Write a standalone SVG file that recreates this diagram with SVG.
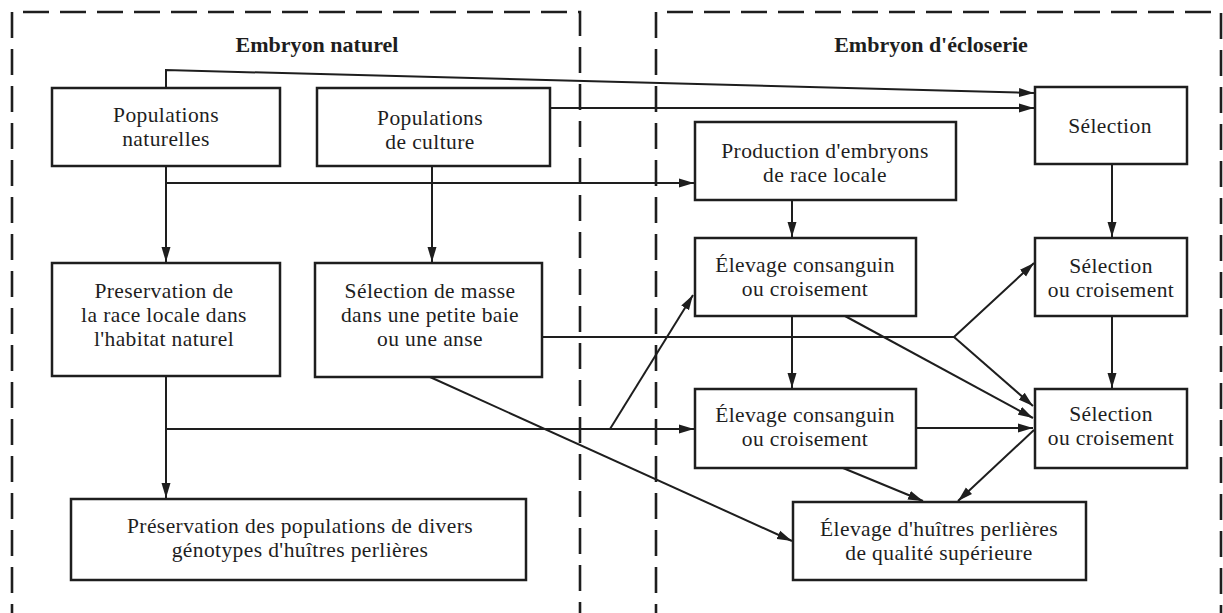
<svg xmlns="http://www.w3.org/2000/svg" width="1223" height="613" viewBox="0 0 1223 613">
<style>
.frame{fill:none;stroke:#1e1e1e;stroke-width:2.6;stroke-dasharray:26 11}
.box{fill:#fff;stroke:#1e1e1e;stroke-width:2.5}
.t{font-family:"Liberation Serif","Times New Roman",serif;font-size:21.5px;letter-spacing:0.4px;fill:#1e1e1e;text-anchor:middle}
.title{font-family:"Liberation Serif","Times New Roman",serif;font-size:22px;font-weight:bold;fill:#1e1e1e;text-anchor:middle}
.c{fill:none;stroke:#1e1e1e;stroke-width:2;marker-end:url(#ah)}
</style>
<defs>
<marker id="ah" markerUnits="userSpaceOnUse" markerWidth="16" markerHeight="10" refX="15" refY="5" orient="auto">
<path d="M0,0.5 L15,5 L0,9.5 z" fill="#1e1e1e"/>
</marker>
</defs>
<rect width="1223" height="613" fill="#fff"/>
<g id="frames">
<path class="frame" d="M12,630 V12 H580 V630"/>
<path class="frame" d="M656,630 V12 H1221 V630"/>
<text class="title" x="317" y="52">Embryon naturel</text>
<text class="title" x="931" y="52">Embryon d'écloserie</text>
</g>
<g id="connectors">
<path class="c" d="M166,88 V70 L1034,93"/>
<path class="c" d="M550,108 H1034"/>
<path class="c" d="M166,166 V262"/>
<path class="c" d="M166,183 H694"/>
<path class="c" d="M432,166 V262"/>
<path class="c" d="M792,200 V237"/>
<path class="c" d="M1112,164 V237"/>
<path class="c" d="M166,376 V498"/>
<path class="c" d="M166,429 H694"/>
<path class="c" d="M610,429 L693,295"/>
<path class="c" d="M792,316 V388"/>
<path class="c" d="M542,337 H954 L1034,263"/>
<path class="c" d="M954,337 L1033,406"/>
<path class="c" d="M845,316 L1033,418"/>
<path class="c" d="M916,428 H1033"/>
<path class="c" d="M1034,430 L958,501"/>
<path class="c" d="M843,468 L923,501"/>
<path class="c" d="M430,377 L792,541"/>
<path class="c" d="M1112,316 V388"/>
</g>
<g id="n1"><rect class="box" x="52" y="88" width="228" height="78"/><text class="t" x="166" y="122">Populations</text><text class="t" x="166" y="146">naturelles</text></g>
<g id="n2"><rect class="box" x="317" y="88" width="233" height="78"/><text class="t" x="430" y="125">Populations</text><text class="t" x="430" y="149">de culture</text></g>
<g id="n3"><rect class="box" x="52" y="263" width="228" height="113"/><text class="t" x="164" y="298">Preservation de</text><text class="t" x="164" y="322">la race locale dans</text><text class="t" x="164" y="346">l'habitat naturel</text></g>
<g id="n4"><rect class="box" x="315" y="263" width="227" height="114"/><text class="t" x="430" y="298">Sélection de masse</text><text class="t" x="430" y="322">dans une petite baie</text><text class="t" x="430" y="346">ou une anse</text></g>
<g id="n5"><rect class="box" x="71" y="499" width="455" height="81"/><text class="t" x="300" y="533">Préservation des populations de divers</text><text class="t" x="300" y="557">génotypes d'huîtres perlières</text></g>
<g id="n6"><rect class="box" x="695" y="122" width="261" height="78"/><text class="t" x="825" y="158">Production d'embryons</text><text class="t" x="825" y="182">de race locale</text></g>
<g id="n7"><rect class="box" x="1035" y="87" width="152" height="77"/><text class="t" x="1110" y="133">Sélection</text></g>
<g id="n8"><rect class="box" x="695" y="238" width="221" height="78"/><text class="t" x="805" y="272">Élevage consanguin</text><text class="t" x="805" y="296">ou croisement</text></g>
<g id="n9"><rect class="box" x="1035" y="238" width="152" height="78"/><text class="t" x="1111" y="273">Sélection</text><text class="t" x="1111" y="297">ou croisement</text></g>
<g id="n10"><rect class="box" x="695" y="389" width="221" height="79"/><text class="t" x="805" y="422">Élevage consanguin</text><text class="t" x="805" y="446">ou croisement</text></g>
<g id="n11"><rect class="box" x="1035" y="389" width="152" height="79"/><text class="t" x="1111" y="421">Sélection</text><text class="t" x="1111" y="445">ou croisement</text></g>
<g id="n12"><rect class="box" x="793" y="502" width="293" height="78"/><text class="t" x="939" y="536">Élevage d'huîtres perlières</text><text class="t" x="939" y="560">de qualité supérieure</text></g>
</svg>
